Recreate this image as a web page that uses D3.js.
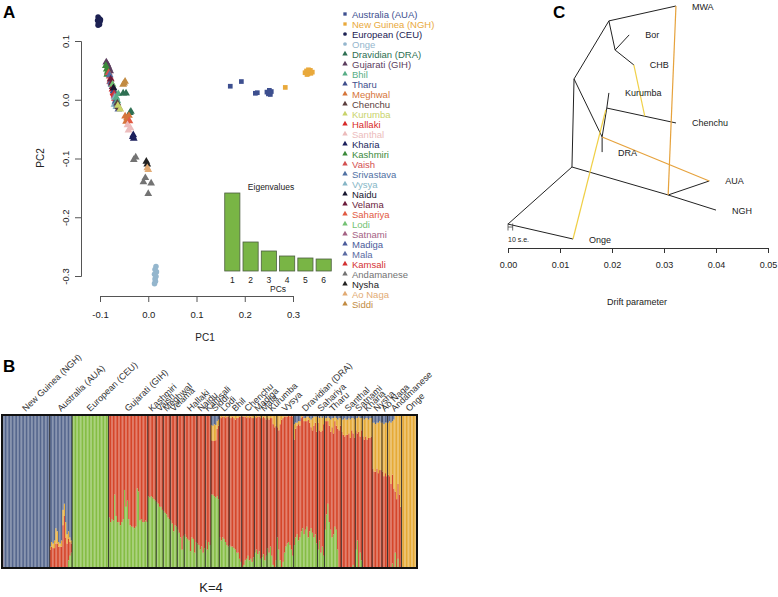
<!DOCTYPE html>
<html><head><meta charset="utf-8">
<script src="https://cdn.jsdelivr.net/npm/d3@7"></script>
<style>body{margin:0;background:#fff} svg{font-family:"Liberation Sans",Arial,Helvetica,sans-serif}</style>
</head><body><svg id="c" width="778" height="597"></svg>
<script>
// ---------------- DATA ----------------
// Panel A legend
const legendNames = ["Australia (AUA)","New Guinea (NGH)","European (CEU)","Onge","Dravidian (DRA)","Gujarati (GIH)","Bhil","Tharu","Meghwal","Chenchu","Kurumba","Hallaki","Santhal","Kharia","Kashmiri","Vaish","Srivastava","Vysya","Naidu","Velama","Sahariya","Lodi","Satnami","Madiga","Mala","Kamsali","Andamanese","Nysha","Ao Naga","Siddi"];
const legendColors = ["#3d4f8f","#e9a93b","#1c2152","#94b6cd","#2e6f52","#5b3d5e","#58ae86","#3f4e8c","#d6753a","#5a3e3e","#c9d36b","#d82a28","#ecbcbc","#1b1f5c","#3b8a3a","#d45050","#5071a3","#86b6c6","#16162e","#6b1b3b","#e25a42","#74c274","#a46284","#4b5b9b","#5c6ca3","#d43232","#737373","#222222","#e2ab74","#c28b42"];
const legendShapes = ["square","square","circle","circle","triangle","triangle","triangle","triangle","triangle","triangle","triangle","triangle","triangle","triangle","triangle","triangle","triangle","triangle","triangle","triangle","triangle","triangle","triangle","triangle","triangle","triangle","triangle","triangle","triangle","triangle"];

// Panel A PCA points: [group, PC1, PC2]
const pcaPoints = [
 ["European (CEU)",-0.104,0.141],["European (CEU)",-0.101,0.138],["European (CEU)",-0.105,0.135],["European (CEU)",-0.100,0.133],["European (CEU)",-0.103,0.130],["European (CEU)",-0.101,0.128],["European (CEU)",-0.104,0.127],["European (CEU)",-0.099,0.136],
 ["Onge",0.016,-0.284],["Onge",0.014,-0.289],["Onge",0.017,-0.293],["Onge",0.013,-0.297],["Onge",0.016,-0.301],["Onge",0.014,-0.305],["Onge",0.015,-0.309],["Onge",0.013,-0.313],
 ["Australia (AUA)",0.170,0.023],["Australia (AUA)",0.193,0.031],["Australia (AUA)",0.222,0.011],["Australia (AUA)",0.226,0.012],["Australia (AUA)",0.246,0.013],["Australia (AUA)",0.251,0.016],["Australia (AUA)",0.253,0.009],["Australia (AUA)",0.255,0.014],["Australia (AUA)",0.249,0.010],["Australia (AUA)",0.252,0.012],
 ["New Guinea (NGH)",0.284,0.021],["New Guinea (NGH)",0.325,0.046],["New Guinea (NGH)",0.328,0.049],["New Guinea (NGH)",0.331,0.044],["New Guinea (NGH)",0.334,0.048],["New Guinea (NGH)",0.337,0.045],["New Guinea (NGH)",0.340,0.047],["New Guinea (NGH)",0.329,0.043],["New Guinea (NGH)",0.336,0.050],["New Guinea (NGH)",0.332,0.051],
 ["Gujarati (GIH)",-0.087,0.064],["Gujarati (GIH)",-0.085,0.061],["Gujarati (GIH)",-0.083,0.057],["Gujarati (GIH)",-0.081,0.053],["Gujarati (GIH)",-0.079,0.049],["Gujarati (GIH)",-0.084,0.045],
 ["Kashmiri",-0.088,0.058],["Kashmiri",-0.086,0.052],["Kashmiri",-0.084,0.048],["Kashmiri",-0.085,0.043],
 ["Vaish",-0.082,0.046],["Vaish",-0.080,0.040],["Vaish",-0.078,0.036],["Vaish",-0.079,0.031],
 ["Srivastava",-0.080,0.042],["Srivastava",-0.078,0.030],["Srivastava",-0.076,0.026],
 ["Velama",-0.078,0.035],["Velama",-0.076,0.028],["Velama",-0.074,0.022],
 ["Lodi",-0.074,0.026],["Lodi",-0.071,0.016],
 ["Hallaki",-0.074,0.018],["Hallaki",-0.072,0.012],["Hallaki",-0.070,0.008],
 ["Tharu",-0.072,0.015],["Tharu",-0.068,-0.004],["Tharu",-0.066,-0.008],
 ["Naidu",-0.072,0.020],["Naidu",-0.068,0.005],["Naidu",-0.066,0.000],
 ["Kamsali",-0.071,0.010],["Kamsali",-0.069,0.002],
 ["Satnami",-0.070,0.006],["Satnami",-0.066,-0.004],
 ["Vysya",-0.069,0.004],["Vysya",-0.066,-0.012],["Vysya",-0.070,-0.008],
 ["Madiga",-0.067,-0.002],["Madiga",-0.064,-0.010],
 ["Mala",-0.065,-0.006],["Mala",-0.062,-0.016],
 ["Bhil",-0.066,0.004],["Bhil",-0.064,-0.002],["Bhil",-0.062,0.010],
 ["Chenchu",-0.064,-0.006],["Chenchu",-0.062,-0.012],["Chenchu",-0.060,-0.014],
 ["Kurumba",-0.063,-0.010],["Kurumba",-0.058,-0.016],
 ["Siddi",-0.050,0.028],["Siddi",-0.048,0.031],["Siddi",-0.052,0.026],
 ["Dravidian (DRA)",-0.052,0.011],["Dravidian (DRA)",-0.046,0.011],["Dravidian (DRA)",-0.036,-0.020],["Dravidian (DRA)",-0.038,-0.022],
 ["Meghwal",-0.048,-0.028],["Meghwal",-0.044,-0.031],["Meghwal",-0.046,-0.037],["Meghwal",-0.040,-0.027],
 ["Sahariya",-0.039,-0.036],
 ["Santhal",-0.043,-0.043],["Santhal",-0.037,-0.048],["Santhal",-0.041,-0.052],
 ["Kharia",-0.031,-0.060],["Kharia",-0.032,-0.063],["Kharia",-0.030,-0.066],
 ["Andamanese",-0.026,-0.098],["Andamanese",-0.030,-0.102],["Andamanese",-0.006,-0.133],["Andamanese",-0.010,-0.140],["Andamanese",0.006,-0.142],["Andamanese",0.000,-0.160],
 ["Nysha",-0.004,-0.105],["Nysha",-0.002,-0.110],
 ["Ao Naga",-0.002,-0.116],["Ao Naga",0.000,-0.119]
];
const xTicksA = [-0.1,0.0,0.1,0.2,0.3];
const yTicksA = [0.1,0.0,-0.1,-0.2,-0.3];

// Eigenvalue inset
const eigenLabels = ["1","2","3","4","5","6"];
const eigenValues = [7.8,2.9,2.0,1.5,1.3,1.2];

// Panel B admixture (K=4): per group, per individual fractions; red = remainder
const admixGroups = ["New Guinea (NGH)","Australia (AUA)","European (CEU)","Gujarati (GIH)","Kashmiri","Vaish","Meghwal","Velama","","Hallaki","Naidu","Kamsali","Siddi","Lodi","Bhil","Chenchu","Madiga","Mala","Kurumba","Vysya","Dravidian (DRA)","Sahariya","Tharu","Santhal","Satnami","Kharia","Nysha","Ao Naga","Andamanese","Onge"];
const qGreen = [
 [0,0,0,0,0,0,0,0,0,0,0,0,0,0,0,0,0,0,0,0,0,0,0,0,0,0,0,0,0,0,0,0,0,0],
 [0,0,0,0,0,0,0,0,0,0,0,0,0,0.05,0.08,0.1],
 [1,1,1,1,1,1,1,1,1,1,1,1,1,1,1,1,1,1,1,1,1,1,1,1,1,1],
 [0.33,0.3,0.32,0.31,0.48,0.34,0.3,0.3,0.28,0.3,0.32,0.51,0.4,0.44,0.32,0.28,0.27,0.27,0.26,0.27,0.52,0.5,0.31,0.32,0.3,0.3,0.31,0.3],
 [0.47,0.46,0.47,0.46,0.45,0.44],
 [0.43,0.42,0.40,0.40,0.38],
 [0.37,0.36,0.35,0.33,0.32],
 [0.31,0.29,0.24,0.28,0.27],
 [0.25,0.23,0.2,0.12,0.21],
 [0.22,0.2,0.19,0.18,0.11,0.2,0.19,0.1,0.17],
 [0.16,0.15,0.12,0.14,0.1,0.13],
 [0.18,0.12,0.17,0.15],
 [0.48,0.48,0.47,0.46,0.47,0.45],
 [0.2,0.18,0.2,0.19,0.17,0.15,0.14],
 [0.15,0.14,0.14,0.13,0.12,0.1,0.1,0.06,0.04],
 [0,0.02,0.05,0.06,0.08,0.05,0.06,0.04,0.07],
 [0.1,0.12,0.09,0.11,0.06],
 [0.07,0.09,0.05,0.08],
 [0.13,0.1,0.14,0.08,0.02,0,0.05],
 [0.2,0.12,0.05,0,0.04,0.1,0.14,0.16,0.17,0.15,0.12,0.08],
 [0.15,0.2,0.22,0.18,0.2,0.24,0.26,0.22,0.25,0.27,0.2,0.24,0.26,0.23,0.2,0.22,0.16],
 [0.12,0.18,0.1,0.14,0.08],
 [0.25,0.35,0.42,0.3,0.25,0.2,0.22,0.27,0.25,0.12,0,0],
 [0,0,0,0,0,0,0,0,0.02,0],
 [0.12,0.18,0,0.1,0.05],
 [0,0,0,0,0,0,0],
 [0,0,0,0,0,0,0],
 [0,0,0,0],
 [0,0,0,0.03,0,0.1,0,0.06,0,0],
 [0,0,0,0,0,0,0,0,0,0,0]
];
const qGold = [
 [0.06,0,0,0,0,0,0,0,0,0,0,0,0,0,0,0,0,0,0,0,0,0,0,0,0,0,0,0,0,0,0,0,0,0],
 [0.02,0.03,0.03,0.05,0.1,0.08,0.03,0.02,0.04,0.1,0.08,0.1,0.06,0.05,0.03,0.02],
 [0,0,0,0,0,0,0,0,0,0,0,0,0,0,0,0,0,0,0,0,0,0,0,0,0,0],
 [0,0,0,0,0,0,0,0,0,0,0,0,0,0,0,0,0,0,0,0,0,0,0,0,0,0,0,0],
 [0,0,0,0,0,0],
 [0,0,0,0,0],
 [0,0,0,0,0],
 [0,0,0,0,0],
 [0,0,0,0,0],
 [0,0,0,0,0,0,0,0,0],
 [0,0,0,0,0,0],
 [0,0,0,0],
 [0.1,0.1,0.11,0.1,0.05,0.04],
 [0.01,0.02,0.01,0.01,0.02,0.01,0.01],
 [0.02,0.02,0.01,0.02,0.03,0.02,0.02,0.01,0.01],
 [0.01,0.01,0.01,0.02,0.01,0.02,0.01,0.02,0.02],
 [0.01,0.02,0.01,0.01,0.02],
 [0.02,0.01,0.02,0.03],
 [0.02,0.03,0.02,0.02,0.06,0.08,0.07],
 [0.08,0.1,0.06,0.03,0.02,0.01,0.01,0.01,0,0.01,0,0.01],
 [0.1,0.04,0.02,0.02,0.03,0.02,0.01,0.02,0.02,0.03,0.02,0.03,0.05,0.08,0.06,0.04,0.1],
 [0.04,0.08,0.1,0.08,0.05],
 [0.02,0.02,0.03,0.05,0.08,0.06,0.1,0.03,0.05,0.06,0.08,0.05],
 [0.08,0.1,0.12,0.1,0.1,0.1,0.12,0.08,0.1,0.12],
 [0.08,0.1,0.1,0.12,0.08],
 [0.12,0.13,0.12,0.14,0.12,0.13,0.12],
 [0.3,0.32,0.31,0.3,0.33,0.32,0.31],
 [0.32,0.34,0.33,0.35],
 [0.34,0.36,0.4,0.35,0.45,0.5,0.55,0.45,0.52,0.6],
 [1,1,1,1,1,1,1,1,1,1,1]
];
const qBlue = [
 [0.82,1,1,1,1,1,1,1,1,1,1,1,1,1,1,1,1,1,1,1,1,1,1,1,1,1,1,1,1,1,1,1,1,1],
 [0.86,0.83,0.84,0.82,0.74,0.76,0.83,0.84,0.82,0.62,0.58,0.7,0.78,0.76,0.8,0.82],
 [0,0,0,0,0,0,0,0,0,0,0,0,0,0,0,0,0,0,0,0,0,0,0,0,0,0],
 [0,0,0,0,0,0,0,0,0,0,0,0,0,0,0,0,0,0,0,0,0,0,0,0,0,0,0,0],
 [0,0,0,0,0,0],
 [0,0,0,0,0],
 [0,0,0,0,0],
 [0,0,0,0,0],
 [0,0,0,0,0],
 [0,0,0,0,0,0,0,0,0],
 [0,0,0,0,0,0],
 [0,0,0,0],
 [0.065,0.07,0.06,0.065,0.04,0.03],
 [0,0,0,0,0,0,0],
 [0,0,0,0,0,0,0,0,0],
 [0,0,0,0,0,0,0,0,0],
 [0,0,0,0,0],
 [0,0,0,0],
 [0,0,0,0,0,0,0],
 [0,0,0,0,0,0,0,0,0,0,0,0],
 [0.06,0.05,0.05,0.04,0.04,0,0,0.02,0.02,0.01,0.01,0.02,0.03,0.02,0.01,0.01,0.01],
 [0.01,0.02,0.01,0.02,0.01],
 [0.02,0.02,0.01,0.02,0.03,0.02,0.02,0.01,0.02,0.03,0.02,0.02],
 [0.03,0.03,0.02,0.03,0.03,0.02,0.03,0.02,0.02,0.03],
 [0.02,0.02,0.01,0.02,0.02],
 [0.02,0.03,0.02,0.02,0.03,0.02,0.02],
 [0.05,0.05,0.06,0.05,0.05,0.04,0.05],
 [0.05,0.06,0.05,0.05],
 [0.05,0.04,0.05,0.04,0.03,0,0,0,0,0],
 [0,0,0,0,0,0,0,0,0,0,0]
];
const admixColors = {green:"#85bd44", red:"#d5462a", gold:"#e6aa36", blue:"#55668d"};

// Panel C TreeMix: nodes [name, drift, vertical position 0(top)..1(bottom)]
const treeNodes = [
 ["root",0.0,0.936],["A",0.0123,0.691],["Onge",0.0125,1.0],["N1",0.0308,0.811],["NGH",0.0400,0.876],["AUA",0.0387,0.751],
 ["B",0.0127,0.313],["C",0.0194,0.064],["MWA",0.0323,0.0],["D",0.0206,0.189],["Bor",0.0233,0.124],["CHB",0.0242,0.253],
 ["F",0.0181,0.562],["DRA",0.0181,0.627],["E",0.0190,0.438],["Kurumba",0.0194,0.373],["Chenchu",0.0323,0.502],
 ["m1",0.0263,0.473],["m2",0.0188,0.446]
];
const treeEdges = [["root","A"],["root","Onge"],["A","N1"],["N1","NGH"],["N1","AUA"],["A","B"],["B","C"],["B","F"],["C","MWA"],["C","D"],["D","Bor"],["D","CHB"],["F","E"],["F","DRA"],["E","Kurumba"],["E","Chenchu"]];
const migrationEdges = [["Onge","m2","#f0cf45"],["m1","CHB","#f0d048"],["N1","MWA","#e6a23c"],["F","AUA","#e6a23c"]];
const leafLabels = ["MWA","Bor","CHB","Kurumba","Chenchu","DRA","AUA","NGH","Onge"];
const driftTicks = [0,0.01,0.02,0.03,0.04,0.05];

// ---------------- DRAW ----------------
const svg = d3.select("#c");
const axisCol = "#555";

// ===== Panel A =====
svg.append("text").attr("x",3).attr("y",18).attr("font-size",17).attr("font-weight","bold").text("A");
const xA = d3.scaleLinear().domain([-0.1,0.3]).range([100,293]);
const yA = d3.scaleLinear().domain([0.1,-0.3]).range([41,276]);
const colorOf = d3.scaleOrdinal(legendNames, legendColors);
const shapeOf = d3.scaleOrdinal(legendNames, legendShapes);
const symType = {square:d3.symbolSquare, circle:d3.symbolCircle, triangle:d3.symbolTriangle};
const symSize = {square:22, circle:24, triangle:26};

const gxA = svg.append("g").attr("transform","translate(0,296)")
 .call(d3.axisBottom(xA).tickValues(xTicksA).tickSize(6).tickPadding(9).tickFormat(d=>d.toFixed(1)));
const gyA = svg.append("g").attr("transform","translate(81,0)")
 .call(d3.axisLeft(yA).tickValues(yTicksA).tickSize(6).tickFormat(d=>d.toFixed(1)));
[gxA,gyA].forEach(g=>{
  g.select(".domain").attr("stroke",axisCol);
  g.selectAll(".tick line").attr("stroke",axisCol);
  g.selectAll("text").attr("font-size",9.5).attr("fill","#222").attr("font-family","Liberation Sans, Arial, sans-serif");
});
gyA.selectAll(".tick text").attr("transform","rotate(-90)").attr("x",0).attr("y",-12).attr("dy",0).attr("text-anchor","middle");
svg.append("text").attr("x",205).attr("y",341).attr("text-anchor","middle").attr("font-size",10).attr("fill","#222").text("PC1");
svg.append("text").attr("transform","translate(44,158) rotate(-90)").attr("text-anchor","middle").attr("font-size",10).attr("fill","#222").text("PC2");

svg.append("g").selectAll("path").data(pcaPoints).join("path")
 .attr("transform",d=>`translate(${xA(d[1])},${yA(d[2])})`)
 .attr("d",d=>d3.symbol().type(symType[shapeOf(d[0])]).size(symSize[shapeOf(d[0])])())
 .attr("fill",d=>colorOf(d[0]));

// legend
const legY = d3.scalePoint(legendNames,[14,304]);
const leg = svg.append("g");
leg.selectAll("path").data(legendNames).join("path")
 .attr("transform",d=>`translate(345,${legY(d)})`)
 .attr("d",d=>d3.symbol().type(symType[shapeOf(d)]).size(shapeOf(d)==="triangle"?13:11)())
 .attr("fill",d=>colorOf(d));
leg.selectAll("text").data(legendNames).join("text")
 .attr("x",352).attr("y",d=>legY(d)+3.5).attr("font-size",9.5).attr("fill",d=>colorOf(d)).text(d=>d);

// eigen inset
const xE = d3.scaleBand(eigenLabels,[224,332]).paddingInner(0.17).paddingOuter(0.04);
const yE = d3.scaleLinear([0,d3.max(eigenValues)],[271,193]);
svg.append("g").selectAll("rect").data(eigenValues).join("rect")
 .attr("x",(d,i)=>xE(eigenLabels[i])).attr("width",xE.bandwidth())
 .attr("y",d=>yE(d)).attr("height",d=>yE(0)-yE(d))
 .attr("fill","#79b545").attr("stroke","#4d5e40").attr("stroke-width",0.8);
svg.append("g").selectAll("text").data(eigenLabels).join("text")
 .attr("x",d=>xE(d)+xE.bandwidth()/2).attr("y",283).attr("text-anchor","middle").attr("font-size",8.5).attr("fill","#222").text(d=>d);
svg.append("text").attr("x",278).attr("y",292).attr("text-anchor","middle").attr("font-size",8.5).attr("fill","#222").text("PCs");
svg.append("text").attr("x",271).attr("y",190).attr("text-anchor","middle").attr("font-size",8.5).attr("fill","#222").text("Eigenvalues");

// ===== Panel B =====
svg.append("text").attr("x",3).attr("y",372).attr("font-size",17).attr("font-weight","bold").text("B");
const individuals = [];
admixGroups.forEach((g,gi)=>{
  qGreen[gi].forEach((v,k)=>{
    const gr=v, go=qGold[gi][k], bl=qBlue[gi][k];
    individuals.push({group:gi, green:gr, gold:go, blue:bl, red:Math.max(0,1-gr-go-bl)});
  });
});
const xB = d3.scaleBand(d3.range(individuals.length),[2,417]).paddingInner(0);
const yB = d3.scaleLinear([0,1],[568,415]);
const comps = ["green","red","gold","blue"];
const stack = d3.stack().keys(comps)(individuals);
const gB = svg.append("g");
stack.forEach(layer=>{
  gB.append("g").attr("fill",admixColors[layer.key]).selectAll("rect").data(layer).join("rect")
   .attr("x",(d,i)=>xB(i)).attr("width",xB.bandwidth()*0.9)
   .attr("y",d=>yB(d[1])).attr("height",d=>Math.max(0,yB(d[0])-yB(d[1])));
});
// group separators & labels
let start=0; const bounds=[];
admixGroups.forEach((g,gi)=>{ const n=qGreen[gi].length; bounds.push([start,start+n]); start+=n; });
gB.append("g").selectAll("line").data(bounds.slice(1)).join("line")
 .attr("x1",d=>xB(d[0])).attr("x2",d=>xB(d[0])).attr("y1",415).attr("y2",568)
 .attr("stroke","#2a2a2a").attr("stroke-width",0.9);
svg.append("rect").attr("x",xB.range()[0]).attr("y",415).attr("width",xB.range()[1]-xB.range()[0]).attr("height",153)
 .attr("fill","none").attr("stroke","#111").attr("stroke-width",2);
svg.append("g").selectAll("text").data(bounds).join("text")
 .attr("transform",(d,i)=>`translate(${(xB(d[0])+xB(d[1]-1)+xB.bandwidth())/2},412) rotate(-44)`)
 .attr("font-size",9).attr("fill","#333").text((d,i)=>admixGroups[i]);
svg.append("text").attr("x",211).attr("y",592).attr("text-anchor","middle").attr("font-size",13).attr("fill","#222").text("K=4");

// ===== Panel C =====
svg.append("text").attr("x",553).attr("y",18).attr("font-size",17).attr("font-weight","bold").text("C");
const xT = d3.scaleLinear([0,0.05],[508,768]);
const yT = d3.scaleLinear([0,1],[6,239]);
const nodeMap = new Map(treeNodes.map(n=>[n[0],n]));
const gT = svg.append("g");
gT.selectAll("line.e").data(treeEdges).join("line").attr("class","e")
 .attr("x1",d=>xT(nodeMap.get(d[0])[1])).attr("y1",d=>yT(nodeMap.get(d[0])[2]))
 .attr("x2",d=>xT(nodeMap.get(d[1])[1])).attr("y2",d=>yT(nodeMap.get(d[1])[2]))
 .attr("stroke","#222").attr("stroke-width",1);
gT.selectAll("line.m").data(migrationEdges).join("line").attr("class","m")
 .attr("x1",d=>xT(nodeMap.get(d[0])[1])).attr("y1",d=>yT(nodeMap.get(d[0])[2]))
 .attr("x2",d=>xT(nodeMap.get(d[1])[1])).attr("y2",d=>yT(nodeMap.get(d[1])[2]))
 .attr("stroke",d=>d[2]).attr("stroke-width",1.2);
gT.selectAll("text.l").data(leafLabels).join("text").attr("class","l")
 .attr("x",d=>xT(nodeMap.get(d)[1])+16).attr("y",d=>yT(nodeMap.get(d)[2])+3.5)
 .attr("font-size",9).attr("fill","#222").text(d=>d);
// scale bar (10 s.e.)
const sb = gT.append("g").attr("stroke","#444").attr("stroke-width",0.8);
sb.append("line").attr("x1",xT(0)).attr("x2",xT(0.0009)).attr("y1",227).attr("y2",227);
sb.append("line").attr("x1",xT(0)).attr("x2",xT(0)).attr("y1",223.5).attr("y2",230.5);
sb.append("line").attr("x1",xT(0.0009)).attr("x2",xT(0.0009)).attr("y1",223.5).attr("y2",230.5);
gT.append("text").attr("x",508).attr("y",242).attr("font-size",7).attr("fill","#222").text("10 s.e.");
const gxT = svg.append("g").attr("transform","translate(0,248)")
 .call(d3.axisBottom(xT).tickValues(driftTicks).tickSize(5).tickPadding(9).tickFormat(d3.format(".2f")));
gxT.select(".domain").attr("stroke","#333");
gxT.selectAll(".tick line").attr("stroke","#333");
gxT.selectAll("text").attr("font-size",9).attr("fill","#222").attr("font-family","Liberation Sans, Arial, sans-serif");
svg.append("text").attr("x",637).attr("y",305).attr("text-anchor","middle").attr("font-size",9).attr("fill","#222").text("Drift parameter");
</script></body></html>
